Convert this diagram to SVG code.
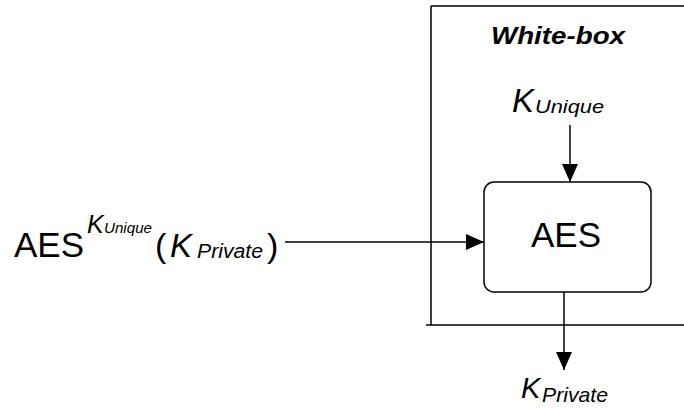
<svg xmlns="http://www.w3.org/2000/svg" width="684" height="408" viewBox="0 0 684 408">
  <style>
    .t { font-family: "Liberation Sans", Arial, sans-serif; fill: #000; }
    .it { font-style: italic; }
    .ln { stroke: #000; stroke-width: 1.5; fill: none; }
  </style>
  <defs>
    <marker id="arrow" markerUnits="userSpaceOnUse" markerWidth="18" markerHeight="16" refX="18" refY="8" orient="auto">
      <path d="M0,0 L18,8 L0,16 z" fill="#000"/>
    </marker>
  </defs>
  <rect width="684" height="408" fill="#fff"/>

  <!-- white-box boundary -->
  <g id="whitebox">
    <path class="ln" d="M431,6 H690 M431,6 V325 M426,325 H690"/>
    <text class="t it" x="558" y="44" font-size="23" font-weight="bold" text-anchor="middle" textLength="134" lengthAdjust="spacingAndGlyphs">White-box</text>
  </g>

  <!-- key input inside the white box -->
  <g id="kunique">
    <text class="t it" y="112"><tspan x="512" font-size="33">K</tspan><tspan x="535" y="113" font-size="18" textLength="69" lengthAdjust="spacingAndGlyphs">Unique</tspan></text>
  </g>

  <!-- cipher block -->
  <g id="aes">
    <rect class="ln" x="484" y="182" width="167" height="110" rx="10" ry="10"/>
    <text class="t" x="566" y="247" font-size="35" text-anchor="middle">AES</text>
  </g>

  <!-- encrypted input expression -->
  <g id="input">
    <text class="t" y="257"><tspan x="14" font-size="35">AES</tspan><tspan class="it" x="87" y="233" font-size="25">K</tspan><tspan class="it" x="104" y="233" font-size="14" textLength="48" lengthAdjust="spacingAndGlyphs">Unique</tspan><tspan x="155" y="257" font-size="34">(</tspan><tspan class="it" x="170" y="257" font-size="33">K</tspan><tspan class="it" x="197" y="258" font-size="20" textLength="66" lengthAdjust="spacingAndGlyphs">Private</tspan><tspan x="267" y="257" font-size="34">)</tspan></text>
  </g>

  <!-- decrypted output -->
  <g id="kprivate">
    <text class="t it" y="398"><tspan x="521" font-size="29">K</tspan><tspan x="542" y="402" font-size="21" textLength="66" lengthAdjust="spacingAndGlyphs">Private</tspan></text>
  </g>

  <!-- connectors -->
  <g id="connectors">
    <line class="ln" x1="285" y1="242" x2="484" y2="242" marker-end="url(#arrow)"/>
    <line class="ln" x1="570" y1="125" x2="570" y2="182" marker-end="url(#arrow)"/>
    <line class="ln" x1="564" y1="292" x2="564" y2="370" marker-end="url(#arrow)"/>
  </g>
</svg>
